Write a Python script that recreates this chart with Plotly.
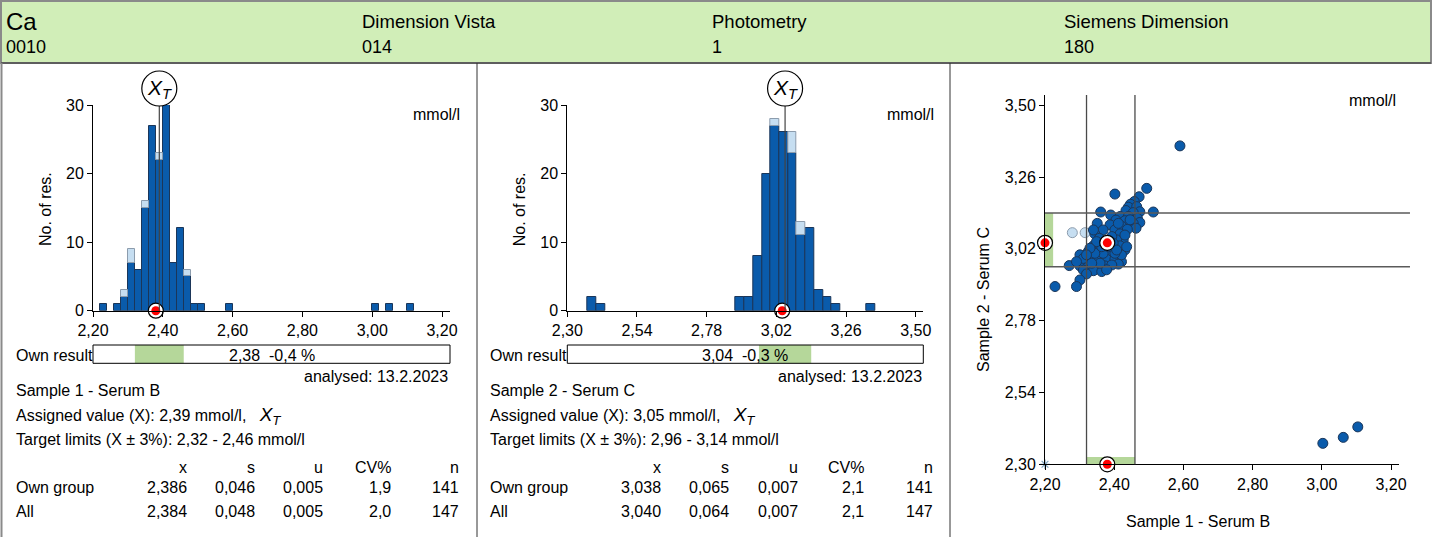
import plotly.graph_objects as go

W, H = 1432, 537
FONT = "Liberation Sans, Arial, Helvetica, sans-serif"

# ---------------- data ----------------
header_top = ["Ca", "Dimension Vista", "Photometry", "Siemens Dimension"]
header_bottom = ["0010", "014", "1", "180"]

# Histogram sample 1 (bin width 0.02)
h1_bin_start = [2.22, 2.26, 2.28, 2.30, 2.32, 2.34, 2.36, 2.38, 2.40, 2.42, 2.44, 2.46, 2.48, 2.50, 2.58, 3.00, 3.04, 3.10]
h1_own = [1, 1, 2, 7, 6, 15, 27, 22, 30, 7, 12, 5, 1, 1, 1, 1, 1, 1]
h1_other = [0, 0, 1, 2, 0, 1, 0, 1, 0, 0, 0, 1, 0, 0, 0, 0, 0, 0]
h1_width = 0.02

# Histogram sample 2 (bin width 0.03)
h2_bin_start = [2.37, 2.40, 2.88, 2.91, 2.94, 2.97, 3.00, 3.03, 3.06, 3.09, 3.12, 3.15, 3.18, 3.21, 3.33]
h2_own = [2, 1, 2, 2, 8, 20, 27, 26, 23, 11, 12, 3, 2, 1, 1]
h2_other = [0, 0, 0, 0, 0, 0, 1, 0, 3, 2, 0, 0, 0, 0, 0]
h2_width = 0.03

h1_xticks = [2.20, 2.40, 2.60, 2.80, 3.00, 3.20]
h2_xticks = [2.30, 2.54, 2.78, 3.02, 3.26, 3.50]
h_yticks = [0, 10, 20, 30]
sc_xticks = [2.20, 2.40, 2.60, 2.80, 3.00, 3.20]
sc_yticks = [2.30, 2.54, 2.78, 3.02, 3.26, 3.50]

assigned = [2.39, 3.05]
limits = [(2.32, 2.46), (2.96, 3.14)]
own_result = [2.38, 3.04]
own_result_txt = ["2,38\u00a0\u00a0-0,4 %", "3,04\u00a0\u00a0-0,3 %"]
sample_names = ["Sample 1 - Serum B", "Sample 2 - Serum C"]
assigned_txt = ["2,39", "3,05"]
limits_txt = ["2,32 - 2,46", "2,96 - 3,14"]
analysed = "13.2.2023"
stat_cols = ["x", "s", "u", "CV%", "n"]
stat_rows = ["Own group", "All"]
stats_s1 = [["2,386", "0,046", "0,005", "1,9", "141"], ["2,384", "0,048", "0,005", "2,0", "147"]]
stats_s2 = [["3,038", "0,065", "0,007", "2,1", "141"], ["3,040", "0,064", "0,007", "2,1", "147"]]

# Youden plot points (sample 1, sample 2)
sc_x = [2.494, 2.402, 2.472, 2.458, 2.447, 2.441, 2.465, 2.434, 2.513, 2.474, 2.455, 2.361, 2.390, 2.417,
        2.441, 2.467, 2.431, 2.474, 2.405, 2.455, 2.351, 2.388, 2.421, 2.463, 2.368, 2.402, 2.438, 2.344,
        2.417, 2.426, 2.357, 2.407, 2.431, 2.417, 2.340, 2.359, 2.388, 2.325, 2.301, 2.330, 2.354, 2.378,
        2.402, 2.421, 2.412, 2.316, 2.270, 2.301, 2.325, 2.349, 2.373, 2.393, 2.311, 2.340, 2.364, 2.320,
        2.301, 2.291, 2.229, 2.378, 2.393, 2.373, 2.340, 2.446, 2.412, 2.431, 2.421, 2.402, 2.368, 2.344,
        2.311, 2.291, 2.378, 2.359, 2.335, 2.383, 2.397, 2.364, 2.349, 2.407, 2.330, 2.320, 2.436,
        2.590, 3.003, 3.062, 3.104]
sc_y = [3.222, 3.203, 3.194, 3.178, 3.169, 3.159, 3.161, 3.148, 3.143, 3.144, 3.141, 3.143, 3.133, 3.128,
        3.128, 3.122, 3.114, 3.108, 3.116, 3.105, 3.105, 3.100, 3.096, 3.089, 3.083, 3.083, 3.085, 3.070,
        3.070, 3.050, 3.055, 3.050, 3.016, 3.030, 3.030, 3.016, 3.011, 3.011, 3.000, 2.988, 2.992, 2.985,
        2.985, 2.977, 2.969, 2.981, 2.964, 2.963, 2.961, 2.958, 2.963, 2.966, 2.949, 2.947, 2.944, 2.936,
        2.916, 2.894, 2.894, 3.033, 3.061, 3.044, 3.083, 3.117, 3.105, 3.066, 3.000, 3.005, 3.005, 3.005,
        2.988, 2.977, 2.950, 2.972, 2.972, 3.027, 3.039, 3.027, 3.044, 3.016, 3.022, 3.000, 3.027,
        3.364, 2.370, 2.390, 2.425]
sc_other_x = [2.279, 2.316]
sc_other_y = [3.074, 3.074]
sc_offscale_x = [2.20]
sc_offscale_y = [2.30]

# ---------------- style ----------------
BLUE = "#0a5bab"
EDGE = "#1b3659"
LIGHT = "#c6def1"
LIGHT_EDGE = "#8c9cad"
GREEN = "#b5d79a"
HEAD_BG = "#d1eeb8"
XT = "<i>X</i><sub><i>T</i></sub>"


def px(x):
    return x / W


def py(y):
    return 1 - y / H


fig = go.Figure()
shapes = []
annotations = []


def txt(x, y, s, size=16, anchor="left", **kw):
    d = dict(x=px(x), y=py(y), xref="paper", yref="paper", text=s, showarrow=False,
             xanchor=anchor, yanchor="middle", font=dict(size=size, color="black", family=FONT))
    d.update(kw)
    annotations.append(d)


# header
shapes.append(dict(type="rect", xref="paper", yref="paper", x0=px(1), x1=px(1431), y0=py(63), y1=py(1),
                   fillcolor=HEAD_BG, line=dict(color="#8a8a8a", width=2), layer="below"))
shapes.append(dict(type="line", xref="paper", yref="paper", x0=px(1), x1=px(1431), y0=py(63), y1=py(63),
                   line=dict(color="#333333", width=1)))
shapes.append(dict(type="line", xref="paper", yref="paper", x0=px(1.5), x1=px(1.5), y0=py(63), y1=0,
                   line=dict(color="#8a8a8a", width=2)))
for xs in (477, 950):
    shapes.append(dict(type="line", xref="paper", yref="paper", x0=px(xs), x1=px(xs), y0=py(63), y1=0,
                       line=dict(color="#333333", width=1)))
head_x = [4, 360, 710, 1062]
for i, (a, b) in enumerate(zip(header_top, header_bottom)):
    txt(head_x[i], 21 if i else 22, a, size=24 if i == 0 else 18.5)
    txt(head_x[i], 47, b, size=18)

# histograms
hist_data = [
    (h1_bin_start, h1_own, h1_other, h1_width, "x", "y", stats_s1),
    (h2_bin_start, h2_own, h2_other, h2_width, "x2", "y2", stats_s2),
]
panel_off = [0, 474.3]
col_right = [[189.3, 257.3, 325, 393.3, 460.7], [663, 731.3, 799.7, 866.3, 934.7]]
for i, (bins, own, other, w, xa, ya, stats) in enumerate(hist_data):
    off = panel_off[i]
    centers = [b + w / 2 for b in bins]
    fig.add_trace(go.Bar(x=centers, y=own, width=w, xaxis=xa, yaxis=ya,
                         marker=dict(color=BLUE, line=dict(color=EDGE, width=1)), hoverinfo="skip"))
    idx = [k for k in range(len(bins)) if other[k] > 0]
    fig.add_trace(go.Bar(x=[centers[k] for k in idx], y=[other[k] for k in idx], base=[own[k] for k in idx],
                         width=w, xaxis=xa, yaxis=ya,
                         marker=dict(color=LIGHT, line=dict(color=LIGHT_EDGE, width=1)), hoverinfo="skip"))
    # own result marker on axis
    fig.add_trace(go.Scatter(x=[own_result[i]], y=[0], mode="markers", xaxis=xa, yaxis=ya, cliponaxis=False,
                             marker=dict(size=15, color="white", line=dict(color="black", width=1.2)),
                             hoverinfo="skip"))
    fig.add_trace(go.Scatter(x=[own_result[i]], y=[0], mode="markers", xaxis=xa, yaxis=ya, cliponaxis=False,
                             marker=dict(size=9, color="#ff0000", line=dict(width=0)), hoverinfo="skip"))
    # XT line + circle
    shapes.append(dict(type="line", xref=xa, yref=ya, x0=assigned[i], x1=assigned[i], y0=0, y1=30,
                       line=dict(color="#444444", width=1.2), layer="above"))
    shapes.append(dict(type="circle", xref=xa, xsizemode="pixel", xanchor=assigned[i], x0=-17.5, x1=17.5,
                       yref="paper", y0=py(106), y1=py(71), fillcolor="white",
                       line=dict(color="black", width=1.2)))
    annotations.append(dict(x=assigned[i], xref=xa, y=py(89), yref="paper", showarrow=False,
                            text=XT, xanchor="center", yanchor="middle",
                            font=dict(size=21, color="black", family=FONT)))
    # units + axis title
    txt(462 + off, 114, "mmol/l", anchor="right")
    txt(45 + off, 209, "No. of res.", textangle=-90, anchor="center")
    # own result bar
    lo, hi = limits[i]
    shapes.append(dict(type="rect", xref=xa, x0=lo, x1=hi, yref="paper", y0=py(363.3), y1=py(345),
                       fillcolor=GREEN, line=dict(width=0)))
    shapes.append(dict(type="rect", xref=xa + " domain", x0=0, x1=1, yref="paper", y0=py(363.3), y1=py(345),
                       line=dict(color="black", width=1)))
    annotations.append(dict(x=0.5, xref=xa + " domain", y=py(355), yref="paper", showarrow=False,
                            text=own_result_txt[i], xanchor="center", yanchor="middle",
                            font=dict(size=16, color="black", family=FONT)))
    txt(14 + off, 355, "Own result")
    txt(450 + off, 376, "analysed: " + analysed, anchor="right")
    txt(14 + off, 390, sample_names[i])
    txt(14 + off, 415.5, "Assigned value (X): " + assigned_txt[i] + " mmol/l,\u00a0\u00a0\u00a0"
        + "<span style='font-size:19px'>" + XT + "</span>")
    txt(14 + off, 439.5, "Target limits (X \u00b1 3%): " + limits_txt[i] + " mmol/l")
    for c, name in enumerate(stat_cols):
        txt(col_right[i][c], 467.5, name, anchor="right")
    for r, rname in enumerate(stat_rows):
        yy = [487, 511][r]
        txt(14 + off, yy, rname)
        for c in range(5):
            txt(col_right[i][c], yy, stats[r][c], anchor="right")

# Youden scatter
lo1, hi1 = limits[0]
lo2, hi2 = limits[1]
shapes.append(dict(type="rect", xref="x3 domain", x0=0, x1=0.023, yref="y3", y0=lo2, y1=hi2,
                   fillcolor=GREEN, line=dict(width=0), layer="below"))
shapes.append(dict(type="rect", xref="x3", x0=lo1, x1=hi1, yref="y3 domain", y0=0, y1=0.02,
                   fillcolor=GREEN, line=dict(width=0), layer="below"))
for v in (lo1, hi1):
    shapes.append(dict(type="line", xref="x3", x0=v, x1=v, yref="y3 domain", y0=0, y1=1,
                       line=dict(color="#4a4a4a", width=1.3)))
for v in (lo2, hi2):
    shapes.append(dict(type="line", xref="x3 domain", x0=0, x1=1.031, yref="y3", y0=v, y1=v,
                       line=dict(color="#5a5a5a", width=1.5)))

fig.add_trace(go.Scatter(x=sc_other_x, y=sc_other_y, mode="markers", xaxis="x3", yaxis="y3",
                         marker=dict(size=10, color=LIGHT, line=dict(color=LIGHT_EDGE, width=1)), hoverinfo="skip"))
fig.add_trace(go.Scatter(x=sc_x, y=sc_y, mode="markers", xaxis="x3", yaxis="y3",
                         marker=dict(size=10, color=BLUE, line=dict(color=EDGE, width=1)), hoverinfo="skip"))
fig.add_trace(go.Scatter(x=sc_offscale_x, y=sc_offscale_y, mode="markers", xaxis="x3", yaxis="y3", cliponaxis=False,
                         marker=dict(size=8, symbol="asterisk-open", color="#7fa3bf", line=dict(color="#7fa3bf", width=1.2)),
                         hoverinfo="skip"))
own_pts_x = [own_result[0], own_result[0], sc_xticks[0]]
own_pts_y = [own_result[1], sc_yticks[0], own_result[1]]
fig.add_trace(go.Scatter(x=own_pts_x, y=own_pts_y, mode="markers", xaxis="x3", yaxis="y3", cliponaxis=False,
                         marker=dict(size=15, color="white", line=dict(color="black", width=1.2)), hoverinfo="skip"))
fig.add_trace(go.Scatter(x=own_pts_x, y=own_pts_y, mode="markers", xaxis="x3", yaxis="y3", cliponaxis=False,
                         marker=dict(size=9, color="#ff0000", line=dict(width=0)), hoverinfo="skip"))
txt(1398, 100, "mmol/l", anchor="right")
txt(983, 300, sample_names[1], textangle=-90, anchor="center")
txt(1198, 521.5, sample_names[0], anchor="center")

axis_common = dict(showline=True, linecolor="black", linewidth=1, ticks="outside", ticklen=5,
                   tickcolor="black", showgrid=False, zeroline=False, automargin=False,
                   tickfont=dict(size=16, color="black", family=FONT))
hy = [py(310.7), py(105)]
fig.update_layout(
    width=W, height=H, autosize=False,
    margin=dict(l=0, r=0, t=0, b=0, pad=0, autoexpand=False),
    paper_bgcolor="white", plot_bgcolor="rgba(0,0,0,0)", showlegend=False, separators=", ",
    barmode="overlay", bargap=0,
    font=dict(family=FONT, color="black", size=16),
    xaxis=dict(domain=[px(93), px(450)], range=[2.20, 3.2229], tickvals=h1_xticks, tickformat=".2f",
               anchor="y", **axis_common),
    yaxis=dict(domain=hy, range=[0, 30], tickvals=h_yticks, anchor="x", **axis_common),
    xaxis2=dict(domain=[px(567.3), px(923.3)], range=[2.30, 3.526], tickvals=h2_xticks, tickformat=".2f",
                anchor="y2", **axis_common),
    yaxis2=dict(domain=hy, range=[0, 30], tickvals=h_yticks, anchor="x2", **axis_common),
    xaxis3=dict(domain=[px(1045), px(1399)], range=[2.20, 3.2231], tickvals=sc_xticks, tickformat=".2f",
                anchor="y3", **axis_common),
    yaxis3=dict(domain=[py(464.3), py(95)], range=[2.30, 3.534], tickvals=sc_yticks, tickformat=".2f",
                anchor="x3", **axis_common),
    shapes=shapes, annotations=annotations,
)
fig.write_html("out.html", config={"displayModeBar": False},
               post_script="document.body.style.margin='0';document.body.style.overflow='hidden';")
